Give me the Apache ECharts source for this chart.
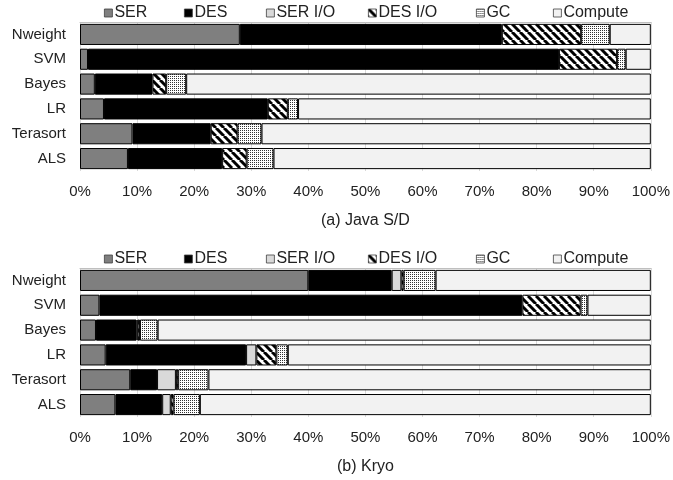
<!DOCTYPE html>
<html>
<head>
<meta charset="utf-8">
<script src="https://cdn.jsdelivr.net/npm/echarts@6/dist/echarts.min.js"></script>
<style>
html,body{margin:0;padding:0;background:#fff;}
#chart{width:673px;height:480px;}
</style>
</head>
<body>
<div id="chart"></div>
<script>
const categories = ['Nweight', 'SVM', 'Bayes', 'LR', 'Terasort', 'ALS'];
const seriesNames = ['SER', 'DES', 'SER I/O', 'DES I/O', 'GC', 'Compute'];
const xTickLabels = ['0%', '10%', '20%', '30%', '40%', '50%', '60%', '70%', '80%', '90%', '100%'];
const panelTitles = ['(a) Java S/D', '(b) Kryo'];

// (a) Java S/D, percent of time per component
const javaSER     = [28.0, 1.4, 2.6, 4.2, 9.2, 8.4];
const javaDES     = [45.9, 82.5, 10.1, 28.7, 13.7, 16.5];
const javaSERIO   = [0, 0, 0, 0, 0, 0];
const javaDESIO   = [13.9, 10.2, 2.4, 3.5, 4.7, 4.3];
const javaGC      = [5.0, 1.5, 3.5, 1.8, 4.2, 4.7];
const javaCompute = [7.2, 4.4, 81.4, 61.8, 68.2, 66.1];

// (b) Kryo
const kryoSER     = [40.0, 3.4, 2.8, 4.5, 8.8, 6.2];
const kryoDES     = [14.6, 74.1, 7.1, 24.6, 4.7, 8.2];
const kryoSERIO   = [1.7, 0, 0.2, 1.8, 3.3, 1.5];
const kryoDESIO   = [0.4, 10.2, 0.4, 3.5, 0.4, 0.5];
const kryoGC      = [5.6, 1.2, 3.1, 2.0, 5.3, 4.6];
const kryoCompute = [37.7, 11.1, 86.4, 63.6, 77.5, 79.0];

const javaData = [javaSER, javaDES, javaSERIO, javaDESIO, javaGC, javaCompute];
const kryoData = [kryoSER, kryoDES, kryoSERIO, kryoDESIO, kryoGC, kryoCompute];

function stripePattern() {
  const c = document.createElement('canvas');
  c.width = 8; c.height = 8;
  const g = c.getContext('2d');
  g.fillStyle = '#fff'; g.fillRect(0, 0, 8, 8);
  g.strokeStyle = '#000'; g.lineWidth = 3;
  for (const o of [-8, 0, 8]) {
    g.beginPath(); g.moveTo(o, 0); g.lineTo(o + 8, 8); g.stroke();
  }
  return c;
}
function dotPattern() {
  const c = document.createElement('canvas');
  c.width = 2; c.height = 2;
  const g = c.getContext('2d');
  g.fillStyle = '#fff'; g.fillRect(0, 0, 2, 2);
  g.fillStyle = '#333';
  g.fillRect(0, 0, 1, 1);
  return c;
}
const fills = [
  '#7f7f7f',
  '#000000',
  '#d9d9d9',
  { image: stripePattern(), repeat: 'repeat' },
  { image: dotPattern(), repeat: 'repeat' },
  '#f2f2f2'
];

const FONT = "'Liberation Sans', Arial, sans-serif";
const legendX = [104, 184, 266, 368, 476, 553];
const panelTop = [22, 268];
const legendTop = [5, 251];

const grids = [], xAxes = [], yAxes = [], series = [], legends = [];
[javaData, kryoData].forEach((data, p) => {
  grids.push({ left: 80, right: 18, top: panelTop[p], height: 149 });
  xAxes.push({
    gridIndex: p, type: 'value', min: 0, max: 100, interval: 10,
    name: panelTitles[p], nameLocation: 'middle', nameGap: 42,
    nameTextStyle: { fontFamily: FONT, fontSize: 16, color: '#222' },
    axisLine: { show: false }, axisTick: { show: false },
    splitLine: { show: true, lineStyle: { color: '#d9d9d9', width: 1 } },
    axisLabel: {
      margin: 13, fontFamily: FONT, fontSize: 15, color: '#222',
      formatter: (v) => xTickLabels[Math.round(v / 10)]
    }
  });
  yAxes.push({
    gridIndex: p, type: 'category', data: categories, inverse: true,
    axisLine: { show: false }, axisTick: { show: false },
    axisLabel: { margin: 14, fontFamily: FONT, fontSize: 15, color: '#222' }
  });
  seriesNames.forEach((name, s) => {
    series.push({
      name: name, type: 'bar', stack: 'p' + p,
      xAxisIndex: p, yAxisIndex: p,
      barCategoryGap: '15%',
      itemStyle: { color: fills[s], borderColor: '#000', borderWidth: 1 },
      emphasis: { disabled: true },
      animation: false,
      data: data[s].map(v => (v === 0 ? '-' : v))
    });
    legends.push({
      data: [name], left: legendX[s], top: legendTop[p], padding: 0,
      itemWidth: 8, itemHeight: 8, icon: 'rect', selectedMode: false,
      itemStyle: { borderColor: '#404040', borderWidth: 0.8 },
      textStyle: { fontFamily: FONT, fontSize: 16, color: '#222', padding: [0, 0, 0, -3] }
    });
  });
});
// thin gray line along the top of each plot area
[0, 1].forEach(p => {
  xAxes.push({
    gridIndex: p, type: 'value', min: 0, max: 100, interval: 10, position: 'top',
    axisLine: { show: true, lineStyle: { color: '#bfbfbf', width: 1 } },
    axisTick: { show: false }, axisLabel: { show: false }, splitLine: { show: false }
  });
});

const chart = echarts.init(document.getElementById('chart'), null, { renderer: 'canvas' });
chart.setOption({
  backgroundColor: '#fff',
  animation: false,
  grid: grids,
  xAxis: xAxes,
  yAxis: yAxes,
  legend: legends,
  series: series
});
</script>
</body>
</html>
